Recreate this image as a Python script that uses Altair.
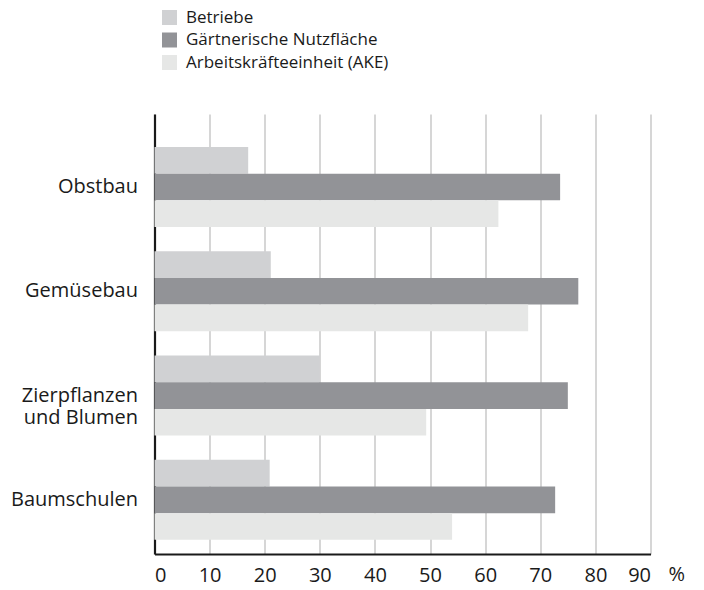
import altair as alt
import pandas as pd

categories = ["Obstbau", "Gemüsebau", "Zierpflanzen|und Blumen", "Baumschulen"]
series = ["Betriebe", "Gärtnerische Nutzfläche", "Arbeitskräfteeinheit (AKE)"]
betriebe = [17.0, 21.1, 30.0, 20.9]
nutzflaeche = [73.6, 76.9, 75.0, 72.7]
ake = [62.4, 67.8, 49.3, 54.0]
colors = ["#d0d1d3", "#929397", "#e6e7e6"]
ticks = [0, 10, 20, 30, 40, 50, 60, 70, 80, 90]

rows = []
for i, c in enumerate(categories):
    for s, vals in zip(series, [betriebe, nutzflaeche, ake]):
        rows.append({"Kategorie": c, "Serie": s, "Wert": vals[i]})
df = pd.DataFrame(rows)

FONT = "Open Sans"
INK = "#1a1a1a"
W, H = 496, 440

bars = alt.Chart(df).mark_bar().encode(
    x=alt.X("Wert:Q", scale=alt.Scale(domain=[0, 90], nice=False),
            axis=alt.Axis(values=ticks, title=None, grid=True, gridColor="#c9c9c9",
                          gridWidth=1.5, ticks=False, domainColor=INK,
                          domainWidth=2.2, labelFontSize=20, labelColor=INK,
                          labelFont=FONT, labelPadding=11)),
    y=alt.Y("Kategorie:N", sort=categories,
            scale=alt.Scale(paddingInner=0.233, paddingOuter=0.226, align=0.70),
            axis=alt.Axis(title=None, ticks=False, domainColor=INK, domainWidth=2.2,
                          labelFontSize=20, labelColor=INK, labelFont=FONT,
                          labelPadding=17, labelExpr="split(datum.label, '|')",
                          labelLineHeight=22)),
    yOffset=alt.YOffset("Serie:N", sort=series,
                        scale=alt.Scale(paddingInner=0, paddingOuter=0)),
    color=alt.Color("Serie:N", sort=series,
                    scale=alt.Scale(domain=series, range=colors),
                    legend=alt.Legend(title=None, orient="none", legendX=6.5, legendY=-105,
                                      symbolType="square", symbolSize=225,
                                      symbolStrokeWidth=0, labelFontSize=17,
                                      labelFont=FONT, labelColor=INK, labelLimit=0,
                                      rowPadding=4.5, labelOffset=8, padding=0)),
)

pct = alt.Chart(pd.DataFrame({"t": ["%"]})).mark_text(
    align="left", baseline="top", fontSize=20, font=FONT, color=INK, dx=18, dy=11
).encode(x=alt.datum(90), y=alt.value(H), text="t:N")

chart = alt.layer(bars, pct).properties(
    width=W, height=H,
    autosize=alt.AutoSizeParams(type="none"),
    padding={"left": 146.5, "top": 106, "right": 40, "bottom": 34},
).configure_view(stroke=None)

chart.save("out.html", embed_options={"renderer": "svg", "actions": False})
